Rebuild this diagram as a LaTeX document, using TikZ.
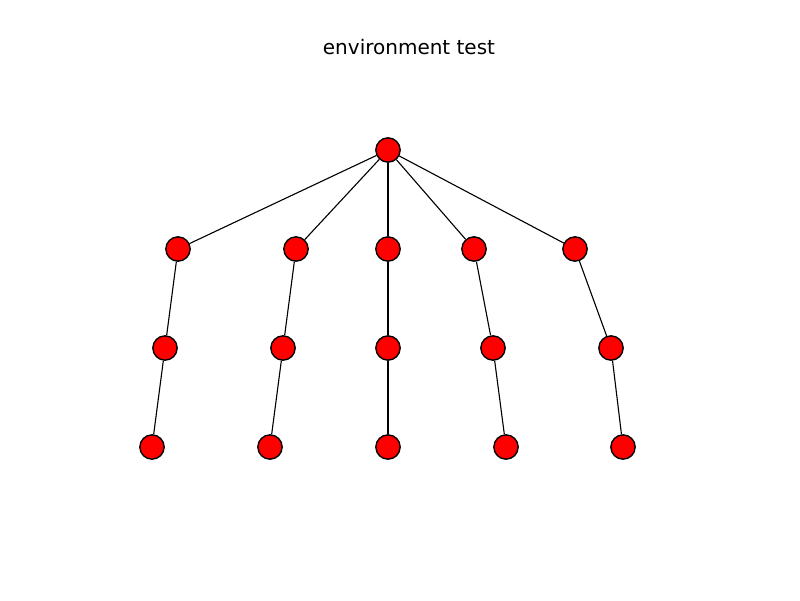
\documentclass[tikz,border=0pt]{standalone}
\usepackage{fontspec}
\setmainfont{DejaVu Sans}
\begin{document}
\begin{tikzpicture}[x=0.72pt,y=-0.72pt,
  vtx/.style={circle,draw=black,fill=red,line width=1pt,minimum size=17.5pt,inner sep=0pt},
  edge/.style={draw=black,line width=0.8pt}]
\useasboundingbox (0,0) rectangle (800,600);
\node[font=\fontsize{14.4pt}{17pt}\selectfont] (title) at (409,47) {environment test};
\node[vtx] (r) at (388,150) {};
\foreach \n/\x in {a/178,b/296,c/388,d/474,e/575} \node[vtx] (\n1) at (\x,249) {};
\foreach \n/\x in {a/165,b/283,c/388,d/493,e/611} \node[vtx] (\n2) at (\x,348) {};
\foreach \n/\x in {a/152,b/270,c/388,d/506,e/623} \node[vtx] (\n3) at (\x,447) {};
\foreach \n in {a,b,c,d,e} {
  \draw[edge] (r) -- (\n1);
  \draw[edge] (\n1) -- (\n2);
  \draw[edge] (\n2) -- (\n3);
}
\end{tikzpicture}
\end{document}
